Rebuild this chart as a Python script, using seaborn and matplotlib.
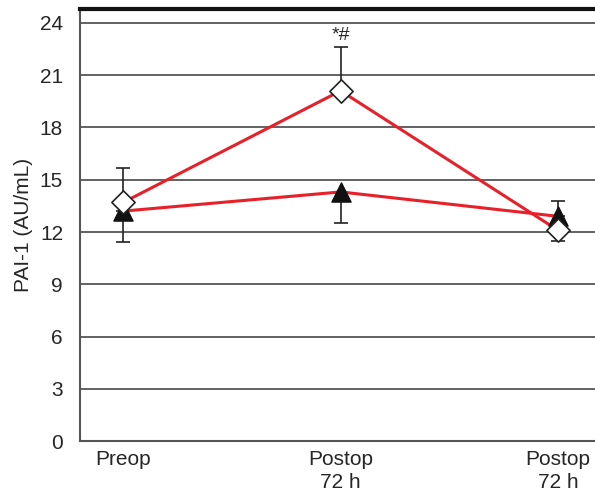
import numpy as np
import pandas as pd
import matplotlib
matplotlib.use('Agg')
import matplotlib.pyplot as plt
import seaborn as sns

# data
times = ['Preop', 'Postop\n72 h', 'Postop\n72 h']
diamond_mean = [13.7, 20.1, 12.1]
diamond_err = [2.0, 2.5, 0.6]
diamond_dir = ['up', 'up', 'down']
triangle_mean = [13.2, 14.3, 12.9]
triangle_err = [1.8, 1.8, 0.9]
triangle_dir = ['down', 'down', 'up']

sns.set_style('white')
plt.rcParams['font.family'] = ['Liberation Sans', 'DejaVu Sans']

x = np.arange(len(times))
df = pd.DataFrame({
    'x': np.concatenate([x, x]),
    'val': diamond_mean + triangle_mean,
    'grp': ['diamond'] * 3 + ['triangle'] * 3,
})

fig = plt.figure(figsize=(5.95, 4.93), dpi=100)
ax = fig.add_axes([0.134, 0.105, 0.866, 0.877])

# grid
for yv in range(3, 25, 3):
    ax.axhline(yv, color='#555555', lw=1.3, zorder=0)

# error bars (one-sided)
def one_sided(errs, dirs):
    lo = [e if d == 'down' else 0 for e, d in zip(errs, dirs)]
    hi = [e if d == 'up' else 0 for e, d in zip(errs, dirs)]
    return [lo, hi]

ax.errorbar(x, diamond_mean, yerr=one_sided(diamond_err, diamond_dir),
            fmt='none', ecolor='#222222', elinewidth=1.2, capsize=5, capthick=1.2, zorder=2)
ax.errorbar(x, triangle_mean, yerr=one_sided(triangle_err, triangle_dir),
            fmt='none', ecolor='#222222', elinewidth=1.2, capsize=5, capthick=1.2, zorder=2)

sns.lineplot(data=df, x='x', y='val', hue='grp', palette=['#e8202a', '#e8202a'],
             lw=2.2, legend=False, ax=ax, zorder=3)

ax.scatter(x, triangle_mean, marker='^', s=190, color='#111111', zorder=4)
ax.scatter(x, diamond_mean, marker='D', s=140, facecolor='white', edgecolor='#222222',
           linewidth=1.2, zorder=5)

ax.text(1, diamond_mean[1] + diamond_err[1] + 0.2, '*#', ha='center', va='bottom', fontsize=14)

ax.set_xlim(-0.2, 2.17)
ax.set_ylim(0, 24.8)
ax.set_yticks(range(0, 25, 3))
ax.set_xticks(x)
ax.set_xticklabels(times, linespacing=1.3)
ax.tick_params(axis='both', length=0, labelsize=15)
ax.tick_params(axis='y', pad=12)
ax.tick_params(axis='x', pad=6)
ax.set_ylabel('PAI-1 (AU/mL)', fontsize=15, labelpad=5)
ax.set_xlabel('')

for s in ['left', 'bottom']:
    ax.spines[s].set_color('#555555')
    ax.spines[s].set_linewidth(1.5)
ax.spines['right'].set_visible(False)
ax.spines['top'].set_color('#111111')
ax.spines['top'].set_linewidth(3)

fig.savefig('out.png', dpi=100)
